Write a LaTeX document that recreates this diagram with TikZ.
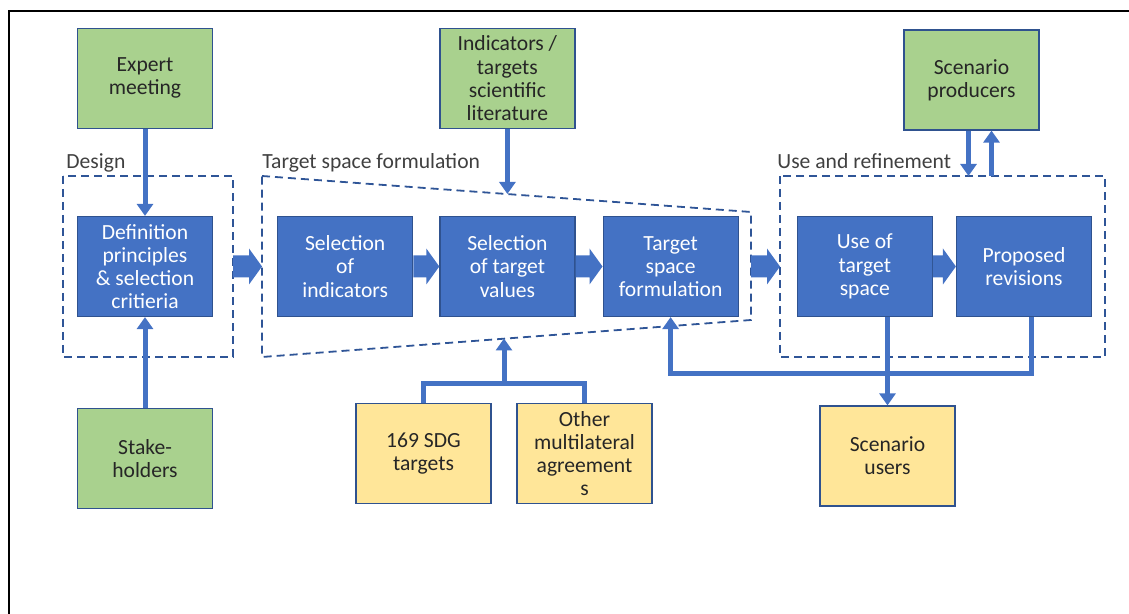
\documentclass[tikz,border=0pt]{standalone}
\usepackage{fontspec}
\setmainfont{Carlito}
\usetikzlibrary{positioning,calc,arrows.meta}
\definecolor{boxblue}{HTML}{4472C4}
\definecolor{edgeblue}{HTML}{2F528F}
\definecolor{srcgreen}{HTML}{A9D18E}
\definecolor{usryellow}{HTML}{FFE699}
\definecolor{dashblue}{HTML}{2F5597}
\tikzset{
    stage/.style = {
        draw = edgeblue,
        fill = boxblue,
        text = white,
        line width = 0.6pt,
        minimum width = 67.5pt,
        minimum height = 50pt,
        align = center,
        font = \fontsize{10.8}{11.6}\selectfont,
        },
    source/.style = {
        stage,
        fill = srcgreen,
        text = black!85,
        },
    sink/.style = {
        stage,
        fill = usryellow,
        text = black!85,
        },
    flow/.style = {
        draw = boxblue,
        line width = 2.5pt,
        -{Triangle[width=8pt,length=6pt]},
        },
    link/.style = {
        draw = boxblue,
        line width = 2.5pt,
        },
    phase/.style = {
        draw = dashblue,
        dash pattern = on 4pt off 2.5pt,
        line width = 0.9pt,
        },
    phase label/.style = {
        text = black!75,
        anchor = base west,
        inner sep = 0pt,
        font = \fontsize{10.8}{11.6}\selectfont,
        },
    big arrow/.style = {
        fill = boxblue,
        },
}
% fat block arrow from #1 to #2 (pointing right)
\newcommand\fatarrow[2]{%
    \fill[big arrow] ($(#1)+(0,5.5pt)$) -- ($(#2)+(-6.5pt,5.5pt)$) -- ($(#2)+(-6.5pt,9pt)$)
        -- (#2) -- ($(#2)+(-6.5pt,-9pt)$) -- ($(#2)+(-6.5pt,-5.5pt)$) -- ($(#1)+(0,-5.5pt)$) -- cycle;}
\begin{document}
\begin{tikzpicture}[x=0.5pt,y=-0.5pt]
    \useasboundingbox (0,0) rectangle (1129,614);
    \draw[line width=1pt] (9,614) -- (9,11) -- (1129,11);

    % main row
    \node[stage] (def) at (145,266.5) {Definition\\principles\\\& selection\\critieria};
    \node[stage, right=32pt of def] (selind) {Selection\\of\\indicators};
    \node[stage, right=13pt of selind] (selval) {Selection\\of target\\values};
    \node[stage, right=13.5pt of selval] (tsf) {Target\\space\\formulation};
    \node[stage, right=29pt of tsf] (use) {Use of\\target\\space};
    \node[stage, right=11.5pt of use] (prop) {Proposed\\revisions};

    % inputs and users
    \node[source, above=43.5pt of def] (expert) {Expert\\meeting};
    \node[source, below=45.5pt of def] (stake) {Stake-\\holders};
    \node[source, above=43.5pt of selval] (lit) {Indicators /\\targets\\scientific\\literature};
    \node[source] (producers) at (971.5,80) {Scenario\\producers};
    \node[sink] (sdg) at (423.5,453.5) {169 SDG\\targets};
    \node[sink] (mea) at (584.5,453.5) {Other\\multilateral\\agreement\\s};
    \node[sink] (users) at (887.5,456) {Scenario\\users};

    % phases
    \coordinate (des nw) at (63,176);
    \coordinate (des se) at (233,357);
    \coordinate (tsf nw) at (262,176);
    \coordinate (tsf ne) at (751,212);
    \coordinate (tsf se) at (751,320);
    \coordinate (tsf sw) at (262,357);
    \coordinate (ref nw) at (780,176);
    \coordinate (ref se) at (1105,357);
    \draw[phase] (des nw) rectangle (des se);
    \draw[phase] (tsf nw) -- (tsf ne) -- (tsf se) -- (tsf sw) -- cycle;
    \draw[phase] (ref nw) rectangle (ref se);
    \node[phase label] at (66,169) {Design};
    \node[phase label] at (262,169) {Target space formulation};
    \node[phase label] at (777,169) {Use and refinement};

    % block arrows
    \fatarrow{des se |- def}{tsf nw |- def}
    \fatarrow{selind.east}{selval.west}
    \fatarrow{selval.east}{tsf.west}
    \fatarrow{tsf ne |- tsf}{ref nw |- use}
    \fatarrow{use.east}{prop.west}

    % connectors
    \draw[flow] (expert) -- (def);
    \draw[flow] (stake) -- (def);
    \coordinate (tsf top) at ($(tsf nw)!0.5!(tsf ne)$);
    \coordinate (tsf bot) at ($(tsf sw)!0.5!(tsf se)$);
    \draw[flow] (lit.south) -- (lit.south |- tsf top);
    \draw[link] (sdg.north) -- ++(0,-19) -| (mea.north);
    \coordinate (join) at ($(sdg.north)!0.5!(mea.north) + (0,-19)$);
    \draw[flow] (join) -- (join |- tsf bot);
    \draw[flow] ([xshift=3.5pt]prop.south) -- ++(0,56) -| (tsf.south);
    \draw[flow] (users.north |- use.south) -- (users.north);
    \draw[flow] ([xshift=-1.5pt]producers.south) -- ([xshift=-1.5pt]producers.south |- ref nw);
    \draw[flow] ([xshift=10pt]producers.south |- ref nw) -- ([xshift=10pt]producers.south);
\end{tikzpicture}
\end{document}
